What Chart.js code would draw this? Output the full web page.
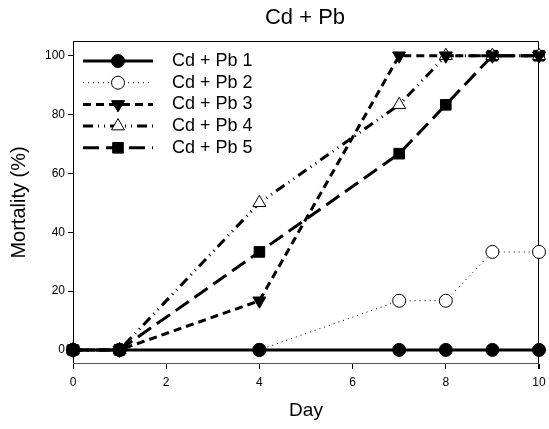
<!DOCTYPE html>
<html lang="en">
  <head>
    <meta charset="UTF-8" />
    <script src="https://cdn.jsdelivr.net/npm/chart.js@4.4.0/dist/chart.umd.min.js"></script>
    <title>Cd + Pb</title>
    <style>
      body { margin: 0; background: #fff; }
    </style>
  </head>
  <body>
    <canvas id="chart" width="549" height="429"></canvas>
    <script>
      // data
      const chartTitle = "Cd + Pb";
      const days = [0, 1, 4, 7, 8, 9, 10];
      const seriesNames = ["Cd + Pb 1", "Cd + Pb 2", "Cd + Pb 3", "Cd + Pb 4", "Cd + Pb 5"];
      const pb1 = [0, 0, 0, 0, 0, 0, 0];
      const pb2 = [0, 0, 0, 16.7, 16.7, 33.3, 33.3];
      const pb3 = [0, 0, 16.7, 100, 100, 100, 100];
      const pb4 = [0, 0, 50, 83.3, 100, 100, 100];
      const pb5 = [0, 0, 33.3, 66.7, 83.3, 100, 100];
      const xTicks = [0, 2, 4, 6, 8, 10];
      const yTicks = [0, 20, 40, 60, 80, 100];

      const family = "'Liberation Sans', Arial, sans-serif";
      const pts = (ys) => days.map((d, i) => ({ x: d, y: ys[i] }));

      // box around the plot + title
      const frame = {
        id: "frame",
        beforeDatasetsDraw(chart) {
          const ctx = chart.ctx, a = chart.chartArea;
          ctx.save();
          ctx.lineWidth = 1;
          ctx.strokeStyle = "#000";
          ctx.beginPath();
          ctx.moveTo(a.left + 0.5, a.bottom + 5);
          ctx.lineTo(a.left + 0.5, a.top + 0.5);
          ctx.lineTo(a.right - 0.5, a.top + 0.5);
          ctx.lineTo(a.right - 0.5, a.bottom + 5);
          ctx.stroke();
          ctx.strokeStyle = "#555";
          ctx.beginPath();
          ctx.moveTo(a.left, a.bottom - 0.5);
          ctx.lineTo(a.right, a.bottom - 0.5);
          ctx.stroke();
          ctx.fillStyle = "#000";
          ctx.font = "22px " + family;
          ctx.textAlign = "center";
          ctx.textBaseline = "middle";
          ctx.fillText(chartTitle, 305, 18);
          ctx.restore();
        },
      };

      // SigmaPlot style legend: line with the marker in the middle
      const legendLines = {
        id: "legendLines",
        afterDatasetsDraw(chart) {
          const ctx = chart.ctx, a = chart.chartArea;
          chart.data.datasets.forEach((ds, i) => {
            const y = a.top + 20 + i * 21.7;
            const x0 = a.left + 10, x1 = a.left + 80, xm = a.left + 45;
            ctx.save();
            ctx.strokeStyle = "#000";
            ctx.lineWidth = ds.borderWidth;
            ctx.setLineDash(ds.borderDash || []);
            ctx.beginPath();
            ctx.moveTo(x0, y);
            ctx.lineTo(x1, y);
            ctx.stroke();
            ctx.setLineDash([]);
            ctx.fillStyle = ds.pointBackgroundColor;
            ctx.lineWidth = 1;
            Chart.helpers.drawPoint(ctx, {
              pointStyle: ds.pointStyle,
              rotation: ds.pointRotation || 0,
              radius: ds.pointRadius,
              borderWidth: 1,
            }, xm, y);
            ctx.fillStyle = "#000";
            ctx.font = "18px " + family;
            ctx.textAlign = "left";
            ctx.textBaseline = "middle";
            ctx.fillText(ds.label, a.left + 99, y);
            ctx.restore();
          });
        },
      };

      const common = { borderColor: "#000", pointBorderColor: "#000", pointBorderWidth: 1, tension: 0, clip: false };

      new Chart(document.getElementById("chart").getContext("2d"), {
        type: "line",
        data: {
          datasets: [
            { ...common, label: seriesNames[0], data: pts(pb1), borderWidth: 3, pointStyle: "circle", pointRadius: 6.5, pointBackgroundColor: "#000" },
            { ...common, label: seriesNames[1], data: pts(pb2), borderWidth: 1, borderDash: [1, 4], pointStyle: "circle", pointRadius: 6.5, pointBackgroundColor: "#fff" },
            { ...common, label: seriesNames[2], data: pts(pb3), borderWidth: 3, borderDash: [8, 5], pointStyle: "triangle", pointRotation: 180, pointRadius: 7.5, pointBackgroundColor: "#000" },
            { ...common, label: seriesNames[3], data: pts(pb4), borderWidth: 3, borderDash: [10, 5, 1, 5, 1, 5], pointStyle: "triangle", pointRadius: 7.5, pointBackgroundColor: "#fff" },
            { ...common, label: seriesNames[4], data: pts(pb5), borderWidth: 3, borderDash: [16, 7], pointStyle: "rect", pointRadius: 7.5, pointBackgroundColor: "#000" },
          ],
        },
        options: {
          responsive: false,
          animation: false,
          layout: { padding: { left: 0, right: 10, top: 41, bottom: 0 } },
          plugins: { legend: { display: false }, title: { display: false }, tooltip: { enabled: false } },
          scales: {
            x: {
              type: "linear",
              min: 0,
              max: 10,
              afterBuildTicks: (s) => { s.ticks = xTicks.map((v) => ({ value: v })); },
              afterFit: (s) => { s.height = 65; s.paddingLeft = 0; s.paddingRight = 0; },
              grid: { drawOnChartArea: false, drawTicks: true, tickLength: 5, color: "#000" },
              border: { display: false },
              ticks: { padding: 6, color: "#000", font: { size: 12, family: family }, maxRotation: 0 },
              title: { display: true, text: "Day", color: "#000", font: { size: 19, family: family }, padding: { top: 0, bottom: 7 } },
            },
            y: {
              min: -4.8,
              max: 105,
              afterBuildTicks: (s) => { s.ticks = yTicks.map((v) => ({ value: v })); },
              afterFit: (s) => { s.width = 73; s.paddingTop = 0; s.paddingBottom = 0; },
              grid: { drawOnChartArea: false, drawTicks: true, tickLength: 5, color: "#000" },
              border: { display: false },
              ticks: { padding: 3, color: "#000", font: { size: 12, family: family } },
              title: { display: true, text: "Mortality (%)", color: "#000", font: { size: 20, family: family }, padding: { top: 7, bottom: 0 } },
            },
          },
        },
        plugins: [frame, legendLines],
      });
    </script>
  </body>
</html>
